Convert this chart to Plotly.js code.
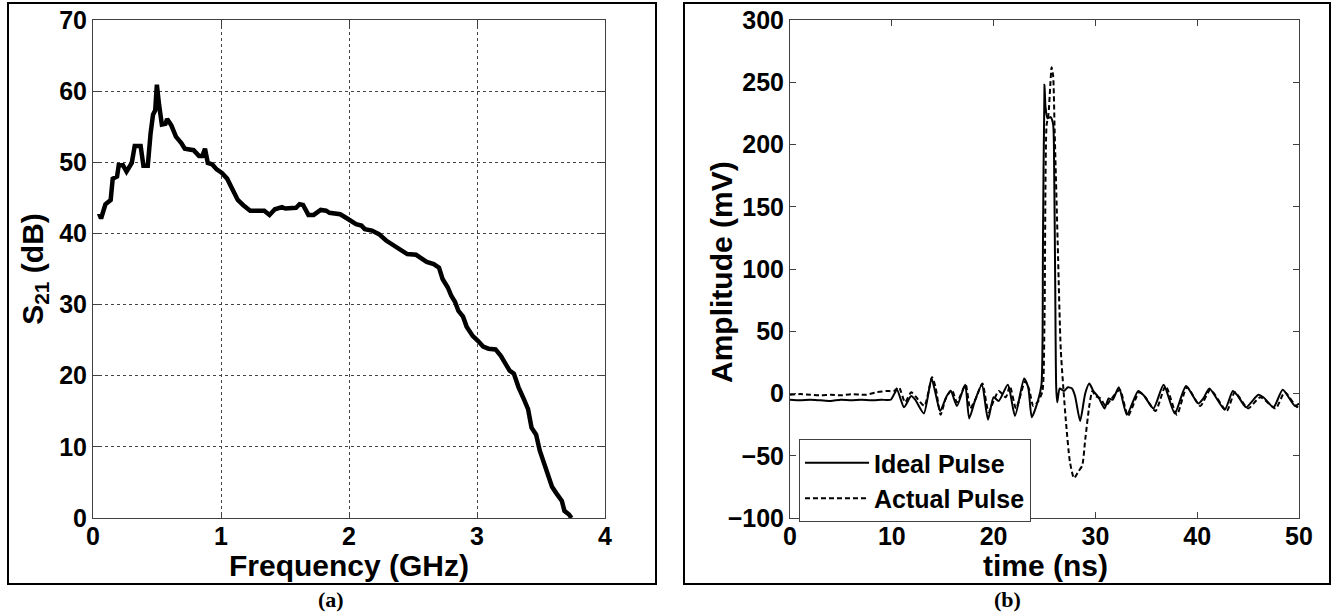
<!DOCTYPE html>
<html>
<head>
<meta charset="utf-8">
<script src="https://cdn.plot.ly/plotly-3.0.1.min.js"></script>
<style>html,body{margin:0;padding:0;background:#fff;}#chart{width:1333px;height:613px;}</style>
</head>
<body>
<div id="chart"></div>
<script>
// (a) S21 versus frequency
const freqGHz = [0.047,0.063,0.097,0.138,0.154,0.188,0.201,0.234,0.262,0.303,0.326,0.372,0.394,0.428,0.450,0.469,0.486,0.499,0.516,0.538,0.566,0.579,0.612,0.648,0.690,0.717,0.786,0.828,0.855,0.875,0.897,0.932,0.966,1.007,1.048,1.090,1.131,1.172,1.228,1.338,1.379,1.421,1.476,1.503,1.586,1.614,1.641,1.683,1.724,1.779,1.821,1.848,1.931,1.986,2.055,2.097,2.124,2.179,2.234,2.290,2.345,2.414,2.455,2.524,2.566,2.607,2.662,2.703,2.731,2.772,2.800,2.828,2.855,2.891,2.919,2.966,3.007,3.048,3.090,3.145,3.186,3.228,3.255,3.288,3.324,3.366,3.399,3.426,3.462,3.490,3.526,3.559,3.586,3.619,3.663,3.683,3.719,3.738];
const s21dB = [42.8,42.1,44.1,44.7,47.7,48.0,49.6,49.6,48.7,49.9,52.3,52.3,49.5,49.5,54.1,56.7,57.3,60.9,58.1,55.3,55.4,56.1,55.2,53.6,52.7,51.9,51.7,50.9,50.9,51.9,49.9,49.7,49.0,48.5,47.7,46.1,44.7,44.0,43.2,43.2,42.6,43.4,43.7,43.5,43.6,44.1,44.0,42.6,42.6,43.3,43.2,42.9,42.7,42.1,41.3,41.1,40.6,40.4,39.9,39.0,38.4,37.5,37.1,37.0,36.4,36.0,35.7,35.2,33.6,32.4,31.2,30.4,29.1,28.3,26.9,25.6,24.9,24.1,23.8,23.7,22.8,21.6,20.7,20.3,18.4,16.7,15.3,12.7,11.7,9.5,7.5,6.0,4.4,3.5,2.4,1.0,0.5,0.0];

// (b) pulses
const idealTimeNs = [0,1,2,3,4,5,6,7,8,9,9.9,10.5,11.2,11.9,12.3,13.15,13.9,14.3,14.75,15.4,15.8,16.4,17.2,17.6,18.2,18.85,19.45,20.0,20.5,21.4,22.1,23.0,23.4,23.75,24.35,24.7,24.85,25.0,25.1,25.3,25.6,25.85,25.95,26.05,26.15,26.25,26.5,26.9,27.3,27.7,28.0,28.5,29.0,29.4,29.8,30.3,30.9,31.3,31.7,32.3,33.1,34.2,34.8,35.7,36.7,37.8,38.9,40.1,40.6,41.2,42.7,43.5,44.0,44.8,46.0,46.5,47.5,48.4,49.6,50];
const idealMv = [-5,-5.5,-5,-5.5,-6,-5,-5.5,-5,-5.5,-5,-5,3,-11,-2,-5,-16,12,0,-14,-2,2,-10,7,-20,-5,7,-21,-3,-6,7,-18,12,5,-19,-6,7,120,248,230,221,222,216,180,90,5,-7,4,2,5,4,-2,-22,0,8,2,-3,-12,-4,-5,5,-17,2,-2,-12,7,-16,6,-8,-4,4,-13,2,-2,-11,-1,-3,-11,3,-10,-8];
const actualTimeNs = [0,1,2,3,4,5,6,7,7.5,8.5,9.5,10.2,10.7,11.3,11.9,12.4,13.2,13.95,14.3,14.8,15.3,15.9,16.4,17.25,17.7,18.2,18.9,19.5,20.0,20.5,21.2,21.6,22.2,23.1,23.5,23.9,24.4,24.8,25.0,25.2,25.4,25.55,25.7,25.85,26.0,26.3,26.6,27.1,27.5,27.9,28.3,28.7,29.0,29.4,29.7,30.0,30.5,31.0,31.5,32.4,33.2,34.3,34.9,35.9,36.9,38.0,39.0,40.3,41.3,42.9,43.7,45.0,46.2,47.7,48.6,49.8,50];
const actualMv = [-1,-0.5,-1,-1.5,-1,-1.5,-0.5,-1,-1,1,2,2,5,-7,1,-3,-10,13,5,-17,-4,3,-7,7,-12,-5,8,-15,-6,2,-3,6,-12,10,3,-10,-6,2,60,215,225,245,262,255,210,120,35,-22,-55,-68,-63,-58,-37,-10,2,-2,-4,-10,-5,3,-18,1,-3,-14,6,-17,5,-10,3,-14,1,-12,-3,-12,1,-11,-9];

const xTicksA = [0,1,2,3,4];
const yTicksA = [0,10,20,30,40,50,60,70];
const xTicksB = [0,10,20,30,40,50];
const yTicksB = [-100,-50,0,50,100,150,200,250,300];

const W = 1333, H = 613;
const px = v => v / W, py = v => 1 - v / H;
const SANS = 'Liberation Sans, Arial, sans-serif';
const SERIF = 'Liberation Serif, Times New Roman, serif';
const tickFont = {family: SANS, size: 25, color: '#000', weight: 'bold'};
const titleFont = {family: SANS, size: 30, color: '#000', weight: 'bold'};

const axisCommon = {
  showline: true, linecolor: '#404040', linewidth: 1, mirror: 'ticks',
  ticks: 'inside', ticklen: 6, tickcolor: '#404040', tickwidth: 1,
  zeroline: false, tickfont: tickFont, fixedrange: true
};

const traces = [
  {x: freqGHz, y: s21dB, xaxis: 'x', yaxis: 'y', mode: 'lines', type: 'scatter',
   line: {color: '#000', width: 4.5}, showlegend: false, hoverinfo: 'skip'},
  {x: idealTimeNs, y: idealMv, xaxis: 'x2', yaxis: 'y2', mode: 'lines', type: 'scatter',
   name: 'Ideal Pulse', line: {color: '#000', width: 2, shape: 'spline', smoothing: 0.6}},
  {x: actualTimeNs, y: actualMv, xaxis: 'x2', yaxis: 'y2', mode: 'lines', type: 'scatter',
   name: 'Actual Pulse', line: {color: '#000', width: 2, dash: '5px,3px', shape: 'spline', smoothing: 0.6}}
];

const layout = {
  width: W, height: H,
  margin: {l: 0, r: 0, t: 0, b: 0},
  paper_bgcolor: '#fff', plot_bgcolor: '#fff',
  font: {family: SANS, color: '#000'},
  xaxis: Object.assign({}, axisCommon, {
    domain: [px(93), px(605)], anchor: 'y', range: [0, 4], tickvals: xTicksA,
    showgrid: true, gridcolor: '#444', griddash: 'dot', gridwidth: 1, ticklabelstandoff: -4
  }),
  yaxis: Object.assign({}, axisCommon, {
    domain: [py(518), py(20)], anchor: 'x', range: [0, 70], tickvals: yTicksA,
    showgrid: true, gridcolor: '#444', griddash: 'dot', gridwidth: 1,
    title: {text: 'S<sub>21</sub> (dB)', font: titleFont, standoff: 6}
  }),
  xaxis2: Object.assign({}, axisCommon, {
    domain: [px(790), px(1299)], anchor: 'y2', range: [0, 50], tickvals: xTicksB,
    showgrid: false, ticklabelstandoff: -4
  }),
  yaxis2: Object.assign({}, axisCommon, {
    domain: [py(518), py(20)], anchor: 'x2', range: [-100, 300], tickvals: yTicksB,
    showgrid: false
  }),
  showlegend: true,
  legend: {
    x: px(799), y: py(439), xanchor: 'left', yanchor: 'top',
    bgcolor: '#fff', bordercolor: '#404040', borderwidth: 1,
    font: {family: SANS, size: 25, color: '#000', weight: 'bold'},
    itemwidth: 64, tracegroupgap: 0
  },
  shapes: [
    {type: 'rect', xref: 'paper', yref: 'paper', x0: px(8), x1: px(656), y0: py(584), y1: py(3),
     line: {color: '#000', width: 2}, fillcolor: 'rgba(0,0,0,0)', layer: 'below'},
    {type: 'rect', xref: 'paper', yref: 'paper', x0: px(684), x1: px(1330), y0: py(584), y1: py(3),
     line: {color: '#000', width: 2}, fillcolor: 'rgba(0,0,0,0)', layer: 'below'}
  ],
  annotations: [
    {text: 'Frequency (GHz)', xref: 'paper', yref: 'paper', x: px(349), y: py(565), xanchor: 'center', yanchor: 'middle',
     showarrow: false, font: titleFont},
    {text: 'time (ns)', xref: 'paper', yref: 'paper', x: px(1045), y: py(565), xanchor: 'center', yanchor: 'middle',
     showarrow: false, font: titleFont},
    {text: 'Amplitude (mV)', xref: 'paper', yref: 'paper', x: px(721), y: py(272), xanchor: 'center', yanchor: 'middle',
     textangle: -90, showarrow: false, font: titleFont},
    {text: '(a)', xref: 'paper', yref: 'paper', x: px(331), y: py(599), xanchor: 'center', yanchor: 'middle',
     showarrow: false, font: {family: SERIF, size: 22, color: '#000', weight: 'bold'}},
    {text: '(b)', xref: 'paper', yref: 'paper', x: px(1007), y: py(599), xanchor: 'center', yanchor: 'middle',
     showarrow: false, font: {family: SERIF, size: 22, color: '#000', weight: 'bold'}}
  ]
};

Plotly.newPlot('chart', traces, layout, {displayModeBar: false, staticPlot: true});
</script>
</body>
</html>
